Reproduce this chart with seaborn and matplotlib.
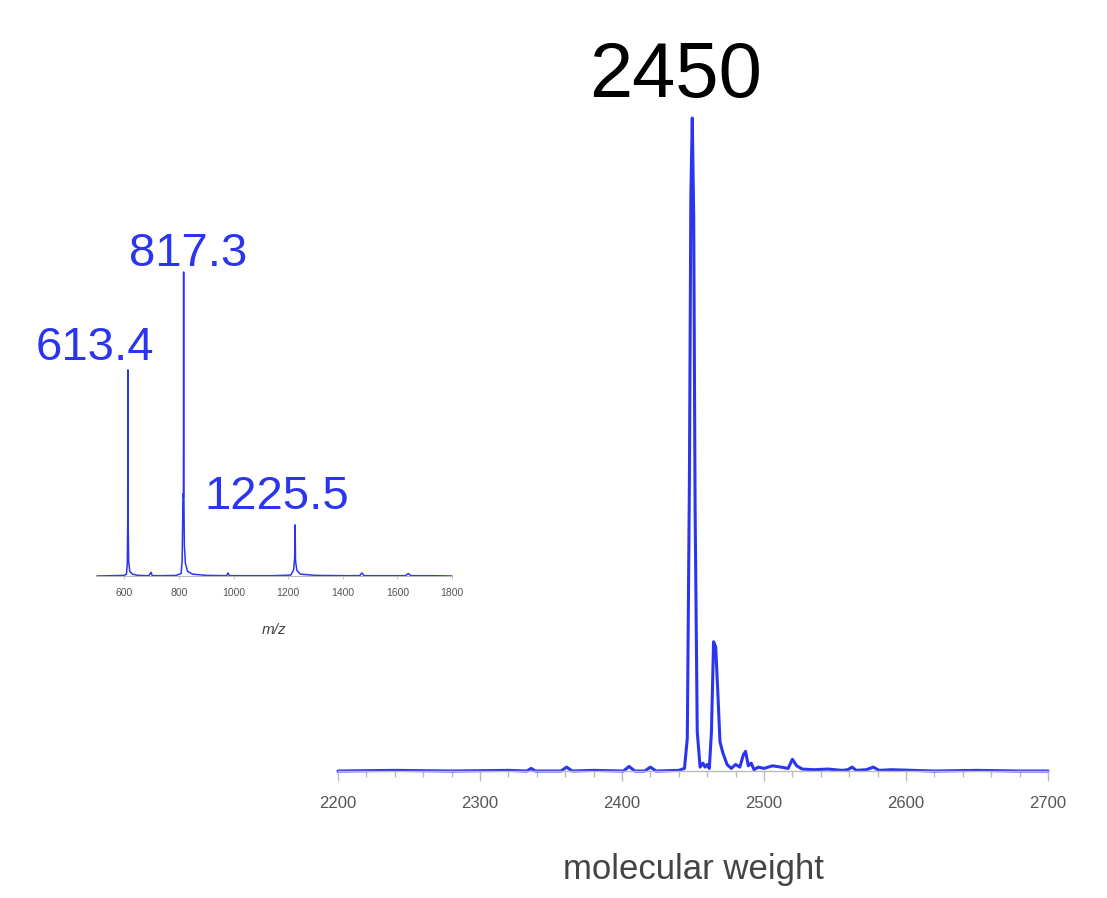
import matplotlib
matplotlib.use("Agg")
import matplotlib.pyplot as plt
import seaborn as sns
import pandas as pd
from matplotlib.ticker import MultipleLocator

sns.set_style("white")
plt.rcParams["font.family"] = ["Liberation Sans", "DejaVu Sans"]

blue = "#2b35f0"

# deconvoluted spectrum (molecular weight vs relative intensity)
mw = [2200, 2240, 2280, 2320, 2333, 2336, 2339, 2357, 2361, 2365, 2380, 2401, 2405, 2409,
      2416, 2420, 2424, 2440, 2444, 2446, 2447.5, 2448.5, 2449.5, 2450.5, 2451.5, 2453,
      2455, 2457, 2458.5, 2460, 2461.5, 2463, 2464.5, 2466, 2467.5, 2469, 2471, 2474,
      2477, 2480, 2483, 2485.5, 2487, 2489, 2491, 2493, 2496, 2500, 2506, 2512, 2517,
      2520, 2523, 2527, 2535, 2545, 2555, 2559, 2562, 2565, 2572, 2577, 2581, 2590,
      2620, 2650, 2680, 2700]
intensity = [0.000, 0.001, 0.000, 0.001, 0.000, 0.004, 0.000, 0.000, 0.006, 0.000, 0.001,
             0.000, 0.007, 0.000, 0.000, 0.006, 0.000, 0.001, 0.004, 0.05, 0.45, 0.88,
             1.000, 0.85, 0.40, 0.06, 0.006, 0.012, 0.006, 0.010, 0.004, 0.06, 0.198,
             0.19, 0.12, 0.045, 0.028, 0.010, 0.004, 0.010, 0.006, 0.025, 0.030, 0.008,
             0.012, 0.002, 0.006, 0.004, 0.008, 0.006, 0.004, 0.018, 0.008, 0.003, 0.002,
             0.003, 0.001, 0.002, 0.006, 0.001, 0.002, 0.006, 0.001, 0.002, 0.000, 0.001,
             0.000, 0.000]

# raw ESI spectrum (m/z vs relative intensity)
mz = [500, 560, 600, 608, 611, 612.6, 613.4, 614.2, 616, 620, 630, 650, 690, 698, 702,
      706, 740, 790, 808, 812, 815, 816.5, 817.3, 818.1, 820, 824, 832, 850, 900, 975,
      980, 985, 1050, 1150, 1210, 1220, 1224, 1225.5, 1227, 1232, 1245, 1300, 1400, 1462,
      1470, 1478, 1560, 1630, 1640, 1650, 1720, 1800]
ions = [0.000, 0.001, 0.002, 0.006, 0.04, 0.18, 0.678, 0.18, 0.05, 0.015, 0.006, 0.002,
        0.001, 0.012, 0.002, 0.001, 0.001, 0.002, 0.008, 0.05, 0.27, 0.26, 1.000, 0.27,
        0.10, 0.04, 0.015, 0.006, 0.002, 0.001, 0.010, 0.001, 0.001, 0.001, 0.003, 0.02,
        0.06, 0.168, 0.05, 0.018, 0.006, 0.002, 0.001, 0.001, 0.010, 0.001, 0.001, 0.001,
        0.008, 0.001, 0.001, 0.000]

main_labels = ["2450"]
inset_labels = ["613.4", "817.3", "1225.5"]

df_main = pd.DataFrame({"mw": mw, "intensity": intensity})
df_inset = pd.DataFrame({"mz": mz, "ions": ions})

fig = plt.figure(figsize=(11.07, 8.98), dpi=100)

# main panel
ax = fig.add_axes([0.3053, 0.1414, 0.6414, 0.7272])
sns.lineplot(data=df_main, x="mw", y="intensity", sort=False, estimator=None,
             color=blue, linewidth=2.2, ax=ax, clip_on=False)
ax.set_xlim(2200, 2700)
ax.set_ylim(0, 1)
ax.set_yticks([])
for s in ["top", "right", "left"]:
    ax.spines[s].set_visible(False)
ax.spines["bottom"].set_color("#bbbbbb")
ax.spines["bottom"].set_linewidth(1.0)
ax.xaxis.set_major_locator(MultipleLocator(100))
ax.xaxis.set_minor_locator(MultipleLocator(20))
ax.tick_params(axis="x", which="major", bottom=True, length=7, width=1, color="#bbbbbb",
               labelsize=12, labelcolor="#555555", pad=11)
ax.tick_params(axis="x", which="minor", bottom=True, length=4, width=1, color="#bbbbbb")
ax.set_xlabel("molecular weight", fontsize=25, color="#444444", labelpad=30)
ax.set_ylabel("")
ax.text(2438, 1.032, main_labels[0], fontsize=56, color="black", ha="center",
        va="baseline", clip_on=False)

# inset: raw m/z spectrum
ins = fig.add_axes([0.0876, 0.3586, 0.3207, 0.3385])
sns.lineplot(data=df_inset, x="mz", y="ions", sort=False, estimator=None,
             color=blue, linewidth=1.1, ax=ins, clip_on=False)
ins.set_xlim(500, 1800)
ins.set_ylim(0, 1)
ins.set_yticks([])
ins.set_xticks([600, 800, 1000, 1200, 1400, 1600, 1800])
for s in ["top", "right", "left"]:
    ins.spines[s].set_visible(False)
ins.spines["bottom"].set_color("#bbbbbb")
ins.spines["bottom"].set_linewidth(0.8)
ins.tick_params(axis="x", bottom=True, length=2.5, width=0.6, color="#bbbbbb",
                labelsize=7.5, labelcolor="#555555", pad=6)
ins.set_xlabel("m/z", fontsize=11, style="italic", color="#444444", labelpad=18)
ins.set_ylabel("")

label_x = [493, 833, 1160]
label_y = [0.71, 1.02, 0.22]
for txt, lx, ly in zip(inset_labels, label_x, label_y):
    ins.text(lx, ly, txt, fontsize=34, color=blue, ha="center", va="baseline",
             clip_on=False)

fig.savefig("out.png", dpi=100)
